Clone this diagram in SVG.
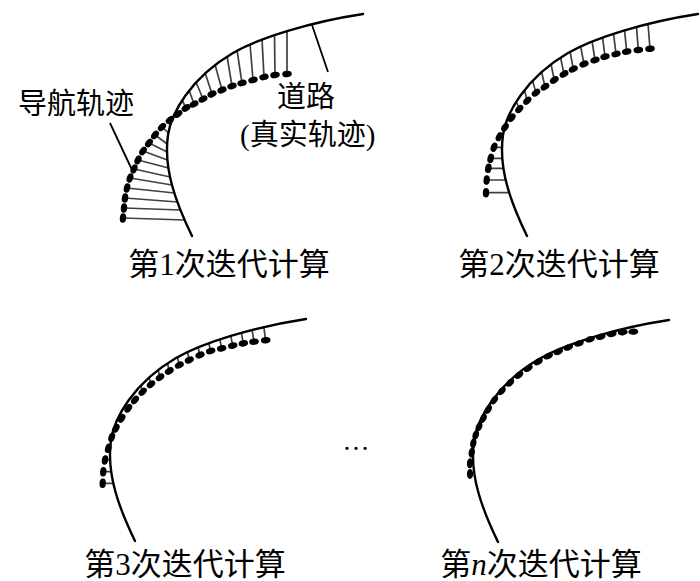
<svg xmlns="http://www.w3.org/2000/svg" width="700" height="581" viewBox="0 0 700 581">
<defs>
<style>
.road{fill:none;stroke:#000;stroke-width:2.4;stroke-linecap:round}
.ticks{fill:none;stroke:#404040;stroke-width:1.7}
.lead{fill:none;stroke:#000;stroke-width:1.8}
.dots{fill:none;stroke:none;marker-start:url(#dot);marker-mid:url(#dot);marker-end:url(#dot)}
.dots4{fill:none;stroke:none;marker-start:url(#dash);marker-mid:url(#dash);marker-end:url(#dash)}
.lbl{font-family:"Liberation Serif","Noto Sans CJK SC",serif;font-size:29px;fill:#000}
.cap{font-family:"Liberation Serif","Noto Sans CJK SC",serif;font-size:31px;fill:#000;text-anchor:middle}
</style>
<marker id="dot" markerUnits="userSpaceOnUse" orient="auto" markerWidth="12" markerHeight="12" refX="6" refY="6" overflow="visible"><ellipse cx="6" cy="6" rx="4.8" ry="3.2" fill="#000"/></marker>
<marker id="dash" markerUnits="userSpaceOnUse" orient="auto" markerWidth="12" markerHeight="12" refX="6" refY="6" overflow="visible"><ellipse cx="6" cy="6" rx="5" ry="3.1" fill="#000"/></marker>
<path id="roadPath" d="M192,236 C177,205 163,170 168,135 C171,114 190,78 233,53 C259,38 310,22 363,14"/>
</defs>
<rect width="700" height="581" fill="#fff"/>

<g id="panel1">
<g id="connectors1">
<path class="ticks" d="M123,218L184.6,220 M124,208L180.4,210 M125,198L177.5,202 M127,188L174.5,193 M130,178L172,185 M134,169L170.1,177 M138,160L168.5,168 M143,151L167.5,160 M149,143L167.2,152 M155,135L167.3,144 M162,127L168.4,133 M186,108L182,100 M194,104L189,90 M203,99L196,82 M212,94L205,72.5 M222,90L215,64.5 M232,86L227,56 M242,83L237,50 M253,80L250,44 M264,77L262,39 M275,75L274.5,34.5 M287,74L287,30.5"/>
<path class="lead" d="M110,123L133,172 M312,25L328,72"/>
</g>
<use href="#roadPath" class="road"/>
<polyline class="dots" points="123,218 124,208 125,198 127,188 130,178 134,169 138,160 143,151 149,143 155,135 162,127 170,120 178,114 186,108 194,104 203,99 212,94 222,90 232,86 242,83 253,80 264,77 275,75 287,74"/>
<text class="lbl" x="18" y="114">导航轨迹</text>
<text class="lbl" x="277" y="107">道路</text>
<text class="lbl" x="240" y="145">(真实轨迹)</text>
<text class="cap" x="229" y="275">第1次迭代计算</text>
</g>

<g id="panel2">
<g transform="translate(335,0)">
<path class="ticks" d="M151,192.7L174.4,192.7 M151.7,180L170.8,180 M153.3,168.3L168.5,168.3 M155.7,158.3L167.4,158.3 M159,147.3L167,147.3 M184.3,109L181.3,101.5 M192.3,100.7L189.3,90 M201,92.7L197.5,80.5 M210,86.7L206.5,71.5 M219.3,80L216,64 M229,74L225.5,57.3 M238.3,69L235,51.3 M249,64L245.5,46 M260,60L257,41 M270,56.7L267.5,37 M281,54L278.5,33.3 M291.7,51.7L289.5,29.8 M303.3,50L301.5,26.4 M315,48.7L313,23.4"/>
<use href="#roadPath" class="road"/>
<polyline class="dots" points="151,192.7 151.7,180 153.3,168.3 155.7,158.3 159,147.3 164.3,136.7 170,127.3 176.7,117.7 184.3,109 192.3,100.7 201,92.7 210,86.7 219.3,80 229,74 238.3,69 249,64 260,60 270,56.7 281,54 291.7,51.7 303.3,50 315,48.7"/>
</g>
<text class="cap" x="559" y="275">第2次迭代计算</text>
</g>

<g id="panel3">
<g transform="translate(-57,305)">
<path class="ticks" d="M159.7,178.3L170.4,178.3 M160.3,166.7L168.2,166.7 M162,155L167.3,155 M199.7,86.7L197.7,80.3 M208,79.3L206,72 M217,72.3L215,64.7 M226.3,66L224.3,58 M236.3,60L234.3,51.7 M246.3,55L244.3,46.5 M257,50L255,42 M267.7,46L265.7,37.7 M278.7,43.3L276.7,34 M289.7,40.7L287.7,30.4 M300.3,38.3L298.3,27.3 M311,36.7L309,24.4 M322.7,35.3L320.7,21.5"/>
<use href="#roadPath" class="road"/>
<polyline class="dots" points="159.7,178.3 160.3,166.7 162,155 165.3,143.3 168.7,132.3 173,123.3 178.7,113.3 185.3,103.3 192,95 199.7,86.7 208,79.3 217,72.3 226.3,66 236.3,60 246.3,55 257,50 267.7,46 278.7,43.3 289.7,40.7 300.3,38.3 311,36.7 322.7,35.3"/>
</g>
<text class="cap" x="185" y="575">第3次迭代计算</text>
</g>

<g id="ellipsis">
<text x="356" y="450" style="font-family:'Liberation Serif',serif;font-size:27px;text-anchor:middle">…</text>
</g>

<g id="panel4">
<g transform="translate(306,306)">
<use href="#roadPath" class="road"/>
<polyline class="dots4" points="164,168 164,157.3 165.7,146.7 167.3,137.3 169.7,129 173,120.7 177.3,112.3 182.3,103.3 188.3,94 195.7,85 204,76.7 213,69 222.3,62.3 232.3,55.7 242.3,50 252.3,45.7 262.3,41.3 273,37.3 284,33.3 294.7,30.7 305.7,28 316.7,26.3 327.3,25.7"/>
</g>
<text class="cap" x="541" y="575">第<tspan font-style="italic">n</tspan>次迭代计算</text>
</g>
</svg>
